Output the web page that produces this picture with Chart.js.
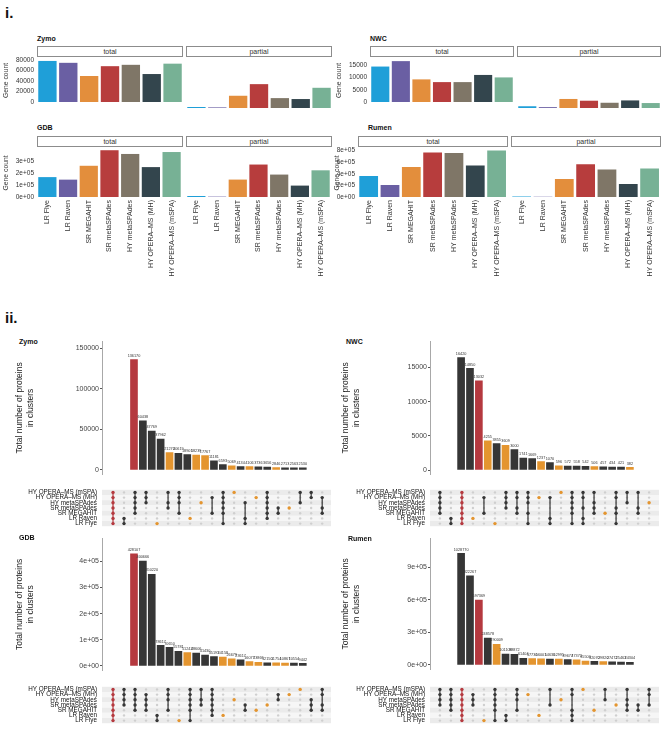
<!DOCTYPE html>
<html>
<head>
    <title>Gene counts and protein clusters</title>
    <meta name="viewport" content="width=device-width, initial-scale=1">
    <script src="https://cdn.jsdelivr.net/npm/chart.js"></script>
    <style>
        body { margin: 0; width: 666px; height: 731px; position: relative; overflow: hidden; background: #fff;
               font-family: "Liberation Sans", Arial, sans-serif; color: #222; }
        canvas { position: absolute; }
        .ttl { position: absolute; font-size: 7px; font-weight: bold; line-height: 7px; white-space: nowrap; color: #111; }
        .part { position: absolute; font-size: 15px; font-weight: bold; line-height: 15px; color: #111; }
        .strip { position: absolute; box-sizing: border-box; border: 1px solid #8c8c8c; background: #fff;
                 font-size: 7px; color: #333; text-align: center; }
    </style>
</head>
<body>
    <script>
        // ---- i. gene counts per assembler ----
        const methods = ['LR Flye', 'LR Raven', 'SR MEGAHIT', 'SR metaSPAdes', 'HY metaSPAdes', 'HY OPERA–MS (MH)', 'HY OPERA–MS (mSPA)'];
        const methodColors = ['#1f9fd8', '#6a5fa3', '#e38e3c', '#b73d3d', '#7f7667', '#33454d', '#77b195'];

        const zymoTotal = [78600, 75000, 49800, 68600, 71200, 53600, 73400];
        const zymoPartial = [1600, 1000, 19800, 38600, 16000, 14500, 32700];
        const nwcTotal = [14400, 16600, 9200, 8100, 8100, 11000, 10000];
        const nwcPartial = [600, 300, 3100, 2500, 1800, 2600, 1700];
        const gdbTotal = [165000, 144000, 259000, 388000, 357000, 248000, 373000];
        const gdbPartial = [8000, 3000, 139000, 259000, 179000, 91000, 213000];
        const rumenTotal = [360000, 205000, 517000, 767000, 756000, 544000, 800000];
        const rumenPartial = [10000, 3000, 300000, 544000, 456000, 217000, 472000];

        const zymoGeneTicks = [0, 20000, 40000, 60000, 80000];
        const nwcGeneTicks = [0, 5000, 10000, 15000];
        const gdbGeneTicks = [0, 100000, 200000, 300000];
        const rumenGeneTicks = [0, 200000, 400000, 600000, 800000];

        // ---- ii. protein cluster intersections ----
        // membership strings, rows top to bottom in the order of setNames
        const setNames = ['HY OPERA–MS (mSPA)', 'HY OPERA–MS (MH)', 'HY metaSPAdes', 'SR metaSPAdes', 'SR MEGAHIT', 'LR Raven', 'LR Flye'];

        const zymoSizes = [136170, 60438, 47769, 37962, 21270, 20619, 18901, 18239, 17767, 11181, 6593, 5069, 4134, 4106, 3736, 3656, 2846, 2713, 2563, 2530];
        const zymoSets = ['1111111', '0000011', '1111100', '1110000', '0000001', '1011000', '1110100', '0000010', '0010000', '0100100',
                          '1111101', '1000000', '0010011', '0100000', '1111110', '0001100', '0001000', '1010000', '1100000', '0101100'];
        const nwcSizes = [16420, 14850, 13032, 4255, 3855, 3609, 3000, 1741, 1669, 1237, 1070, 596, 572, 558, 542, 506, 457, 434, 421, 382];
        const nwcSets = ['1111100', '0000011', '1111111', '0000010', '0100100', '0000001', '1111000', '1101100', '1110101', '0100000',
                         '0100011', '1000000', '1111101', '1101011', '1011100', '0000100', '1101101', '1010000', '1001100', '0010000'];
        const gdbSizes = [428107, 400666, 350220, 78617, 70650, 55781, 51242, 48606, 41430, 35191, 34158, 26679, 23617, 16077, 13866, 12150, 11754, 10867, 10554, 9442];
        const gdbSets = ['1111111', '1111000', '1111100', '0111100', '0000011', '1110100', '0000001', '1111101', '1011000', '1111110',
                         '0000010', '0010000', '0001100', '0000100', '0001000', '0110000', '0100000', '1000000', '0011100', '1101100'];
        const rumenSizes = [1028770, 822267, 597369, 248578, 190009, 101103, 98872, 61404, 57730, 56001, 54630, 52995, 49677, 47372, 35500, 32070, 29820, 27472, 25463, 24304];
        const rumenSets = ['1111000', '1111100', '1111111', '0111000', '0000001', '1111101', '0000011', '1110100', '0100000', '0000010',
                           '1001000', '0010000', '1100111', '1000000', '0000100', '1010000', '0001000', '1011100', '0001100', '1101000'];

        const zymoCountTicks = [0, 50000, 100000, 150000];
        const nwcCountTicks = [0, 5000, 10000, 15000];
        const gdbCountTicks = [0, 100000, 200000, 300000, 400000];
        const rumenCountTicks = [0, 300000, 600000, 900000];

        Chart.defaults.font.family = '"Liberation Sans", Arial, sans-serif';
        Chart.defaults.color = '#333';
        Chart.defaults.animation = false;
        Chart.defaults.responsive = false;
        Chart.defaults.plugins.legend.display = false;
        Chart.defaults.plugins.tooltip.enabled = false;

        function addCanvas(left, top, w, h) {
            const c = document.createElement('canvas');
            c.width = w; c.height = h;
            c.style.left = left + 'px'; c.style.top = top + 'px';
            c.style.width = w + 'px'; c.style.height = h + 'px';
            document.body.appendChild(c);
            return c;
        }
        function addText(txt, x, y, cls) {
            const d = document.createElement('div');
            d.className = cls;
            d.textContent = txt;
            d.style.left = x + 'px'; d.style.top = y + 'px';
            document.body.appendChild(d);
        }
        function addStrip(txt, x, y, w, h) {
            const d = document.createElement('div');
            d.className = 'strip';
            d.textContent = txt;
            d.style.left = x + 'px'; d.style.top = y + 'px';
            d.style.width = w + 'px'; d.style.height = h + 'px';
            d.style.lineHeight = (h - 2) + 'px';
            document.body.appendChild(d);
        }
        function fmt(v, sci) {
            return sci ? v.toExponential(0).replace(/e\+(\d)$/, 'e+0$1') : String(v);
        }
        function fixW(w) { return function (s) { s.width = w; }; }
        function fixH(h) { return function (s) { s.height = h; }; }

        addText('i.', 5, 5, 'part');
        addText('ii.', 5, 310, 'part');

        const genePanels = [
            { title: 'Zymo', titleX: 37, titleY: 35, canvasLeft: 0, left: 37, w: 146, top: 57, h: 51,
              total: zymoTotal, partial: zymoPartial, ymax: 82500, ticks: zymoGeneTicks, sci: false, xlabels: false, titlePad: 2 },
            { title: 'NWC', titleX: 370, titleY: 35, canvasLeft: 333, left: 370, w: 144, top: 57, h: 51,
              total: nwcTotal, partial: nwcPartial, ymax: 17500, ticks: nwcGeneTicks, sci: false, xlabels: false, titlePad: 2 },
            { title: 'GDB', titleX: 37, titleY: 124, canvasLeft: 0, left: 37, w: 146, top: 147, h: 50,
              total: gdbTotal, partial: gdbPartial, ymax: 399000, ticks: gdbGeneTicks, sci: true, xlabels: true, titlePad: 2 },
            { title: 'Rumen', titleX: 368, titleY: 124, canvasLeft: 333, left: 358, w: 150, top: 147, h: 50,
              total: rumenTotal, partial: rumenPartial, ymax: 828000, ticks: rumenGeneTicks, sci: true, xlabels: true, titlePad: 0 }
        ];

        genePanels.forEach(function (p) {
            addText(p.title, p.titleX, p.titleY, 'ttl');
            ['total', 'partial'].forEach(function (facet, k) {
                const plotLeft = k === 0 ? p.left : p.left + p.w + 3;
                const canvasLeft = k === 0 ? p.canvasLeft : plotLeft;
                const yW = k === 0 ? p.left - p.canvasLeft : 0;
                const xH = p.xlabels ? 90 : 0;
                addStrip(facet, plotLeft, p.top - 11, p.w, 11);
                const cv = addCanvas(canvasLeft, p.top - 5, yW + p.w, 5 + p.h + xH + 1);
                new Chart(cv, {
                    type: 'bar',
                    data: {
                        labels: methods,
                        datasets: [{
                            data: k === 0 ? p.total : p.partial,
                            backgroundColor: methodColors,
                            barPercentage: 0.88,
                            categoryPercentage: 1
                        }]
                    },
                    options: {
                        layout: { padding: { top: 5, bottom: 1, left: 0, right: 0 } },
                        scales: {
                            x: {
                                display: p.xlabels,
                                grid: { display: false, drawTicks: false },
                                border: { display: false },
                                ticks: { autoSkip: false, minRotation: 90, maxRotation: 90, padding: 3,
                                         font: { size: 7 }, color: '#333' },
                                afterFit: fixH(xH)
                            },
                            y: {
                                display: k === 0,
                                min: 0,
                                max: p.ymax,
                                grid: { display: false, drawTicks: false },
                                border: { display: false },
                                title: { display: true, text: 'Gene count', font: { size: 6.8 }, color: '#333',
                                         padding: { top: p.titlePad, bottom: 0 } },
                                afterBuildTicks: function (s) { s.ticks = p.ticks.map(function (v) { return { value: v }; }); },
                                ticks: { padding: 3, font: { size: 6.5 }, color: '#333',
                                         callback: function (v) { return fmt(v, p.sci); } },
                                afterFit: fixW(yW)
                            }
                        }
                    }
                });
            });
        });

        const redCol = '#b5393f', orangeCol = '#e4952f', blackCol = '#363636';
        function columnColour(m) {
            const n = m.split('').filter(function (c) { return c === '1'; }).length;
            if (n === setNames.length) return redCol;
            if (n === 1) return orangeCol;
            return blackCol;
        }

        const valueLabels = {
            id: 'valueLabels',
            afterDatasetsDraw: function (chart) {
                const ctx = chart.ctx;
                const ds = chart.data.datasets[0];
                ctx.save();
                ctx.font = '3.8px "Liberation Sans", Arial, sans-serif';
                ctx.fillStyle = '#333';
                ctx.textAlign = 'center';
                ctx.textBaseline = 'bottom';
                chart.getDatasetMeta(0).data.forEach(function (el, i) {
                    ctx.fillText(String(ds.data[i].y), el.x, el.y - 2);
                });
                ctx.restore();
            }
        };
        const stripes = {
            id: 'stripes',
            beforeDatasetsDraw: function (chart) {
                const ctx = chart.ctx, y = chart.scales.y, a = chart.chartArea;
                const step = y.getPixelForValue(1) - y.getPixelForValue(0);
                ctx.save();
                setNames.forEach(function (s, r) {
                    ctx.fillStyle = r % 2 === 0 ? '#ebebeb' : '#f6f6f6';
                    ctx.fillRect(a.left, y.getPixelForValue(r) - step / 2, a.right - a.left, step);
                });
                ctx.restore();
            }
        };

        const upsetPanels = [
            { title: 'Zymo', titleX: 19, titleY: 338, canvasLeft: 0, axisX: 102, right: 333, top: 341, bottom: 478,
              xMin: -1, xMax: 19.8, yMin: -6000, yMax: 159000, sizes: zymoSizes, sets: zymoSets,
              ticks: zymoCountTicks, sci: false, matrixTop: 487, titlePad: 15 },
            { title: 'NWC', titleX: 346, titleY: 338, canvasLeft: 333, axisX: 430, right: 661, top: 341, bottom: 478,
              xMin: -0.9, xMax: 19.9, yMin: -700, yMax: 18860, sizes: nwcSizes, sets: nwcSets,
              ticks: nwcCountTicks, sci: false, matrixTop: 487, titlePad: 8 },
            { title: 'GDB', titleX: 19, titleY: 534, canvasLeft: 0, axisX: 102, right: 333, top: 538, bottom: 674,
              xMin: -1, xMax: 19.8, yMin: -18700, yMax: 489000, sizes: gdbSizes, sets: gdbSets,
              ticks: gdbCountTicks, sci: true, matrixTop: 684, titlePad: 15 },
            { title: 'Rumen', titleX: 348, titleY: 535, canvasLeft: 333, axisX: 430, right: 661, top: 538, bottom: 673,
              xMin: -0.9, xMax: 19.9, yMin: -45000, yMax: 1171000, sizes: rumenSizes, sets: rumenSets,
              ticks: rumenCountTicks, sci: true, matrixTop: 684, titlePad: 8 }
        ];

        upsetPanels.forEach(function (p) {
            addText(p.title, p.titleX, p.titleY, 'ttl');
            const colColours = p.sets.map(columnColour);
            const yW = p.axisX - p.canvasLeft;
            const width = p.right - p.canvasLeft + 2;

            // intersection sizes
            const barCanvas = addCanvas(p.canvasLeft, p.top - 6, width, p.bottom - p.top + 8);
            new Chart(barCanvas, {
                type: 'bar',
                data: {
                    datasets: [{
                        data: p.sizes.map(function (v, i) { return { x: i, y: v }; }),
                        backgroundColor: colColours,
                        barThickness: 7
                    }]
                },
                options: {
                    layout: { padding: { top: 6, bottom: 2, left: 0, right: 2 } },
                    scales: {
                        x: { type: 'linear', min: p.xMin, max: p.xMax, display: false },
                        y: {
                            min: p.yMin,
                            max: p.yMax,
                            border: { display: true, color: '#a8a8a8', width: 1 },
                            grid: { drawOnChartArea: false, drawTicks: true, tickLength: 2, color: '#555' },
                            title: { display: true, text: ['Total number of proteins', 'in clusters'],
                                     font: { size: 8.5 }, color: '#222', padding: { top: p.titlePad, bottom: 0 } },
                            afterBuildTicks: function (s) { s.ticks = p.ticks.map(function (v) { return { value: v }; }); },
                            ticks: { padding: 1, font: { size: 7 }, color: '#444',
                                     callback: function (v) { return fmt(v, p.sci); } },
                            afterFit: fixW(yW)
                        }
                    }
                },
                plugins: [valueLabels]
            });

            // membership matrix
            const greyDots = [], activeDots = [], activeColours = [], links = [];
            p.sets.forEach(function (m, i) {
                setNames.forEach(function (s, r) {
                    greyDots.push({ x: i, y: s });
                    if (m[r] === '1') {
                        activeDots.push({ x: i, y: s });
                        activeColours.push(colColours[i]);
                    }
                });
                const first = m.indexOf('1'), last = m.lastIndexOf('1');
                if (first !== last) {
                    links.push({
                        type: 'line',
                        data: [{ x: i, y: setNames[first] }, { x: i, y: setNames[last] }],
                        borderColor: colColours[i],
                        borderWidth: 1.2,
                        pointRadius: 0
                    });
                }
            });
            const matCanvas = addCanvas(p.canvasLeft, p.matrixTop - 6, width, 42 + 12);
            new Chart(matCanvas, {
                type: 'scatter',
                data: {
                    datasets: [{ data: activeDots, pointBackgroundColor: activeColours, pointBorderWidth: 0, pointRadius: 1.7 }]
                        .concat(links)
                        .concat([{ data: greyDots, pointBackgroundColor: '#cfcfcf', pointBorderWidth: 0, pointRadius: 1.2 }])
                },
                options: {
                    layout: { padding: { top: 6, bottom: 6, left: 0, right: 2 } },
                    scales: {
                        x: { type: 'linear', min: p.xMin, max: p.xMax, display: false },
                        y: {
                            type: 'category',
                            labels: setNames,
                            offset: true,
                            grid: { display: false, drawTicks: false },
                            border: { display: false },
                            ticks: { autoSkip: false, padding: 5, font: { size: 6.3 }, color: '#111' },
                            afterFit: fixW(yW)
                        }
                    }
                },
                plugins: [stripes]
            });
        });
    </script>
</body>
</html>
